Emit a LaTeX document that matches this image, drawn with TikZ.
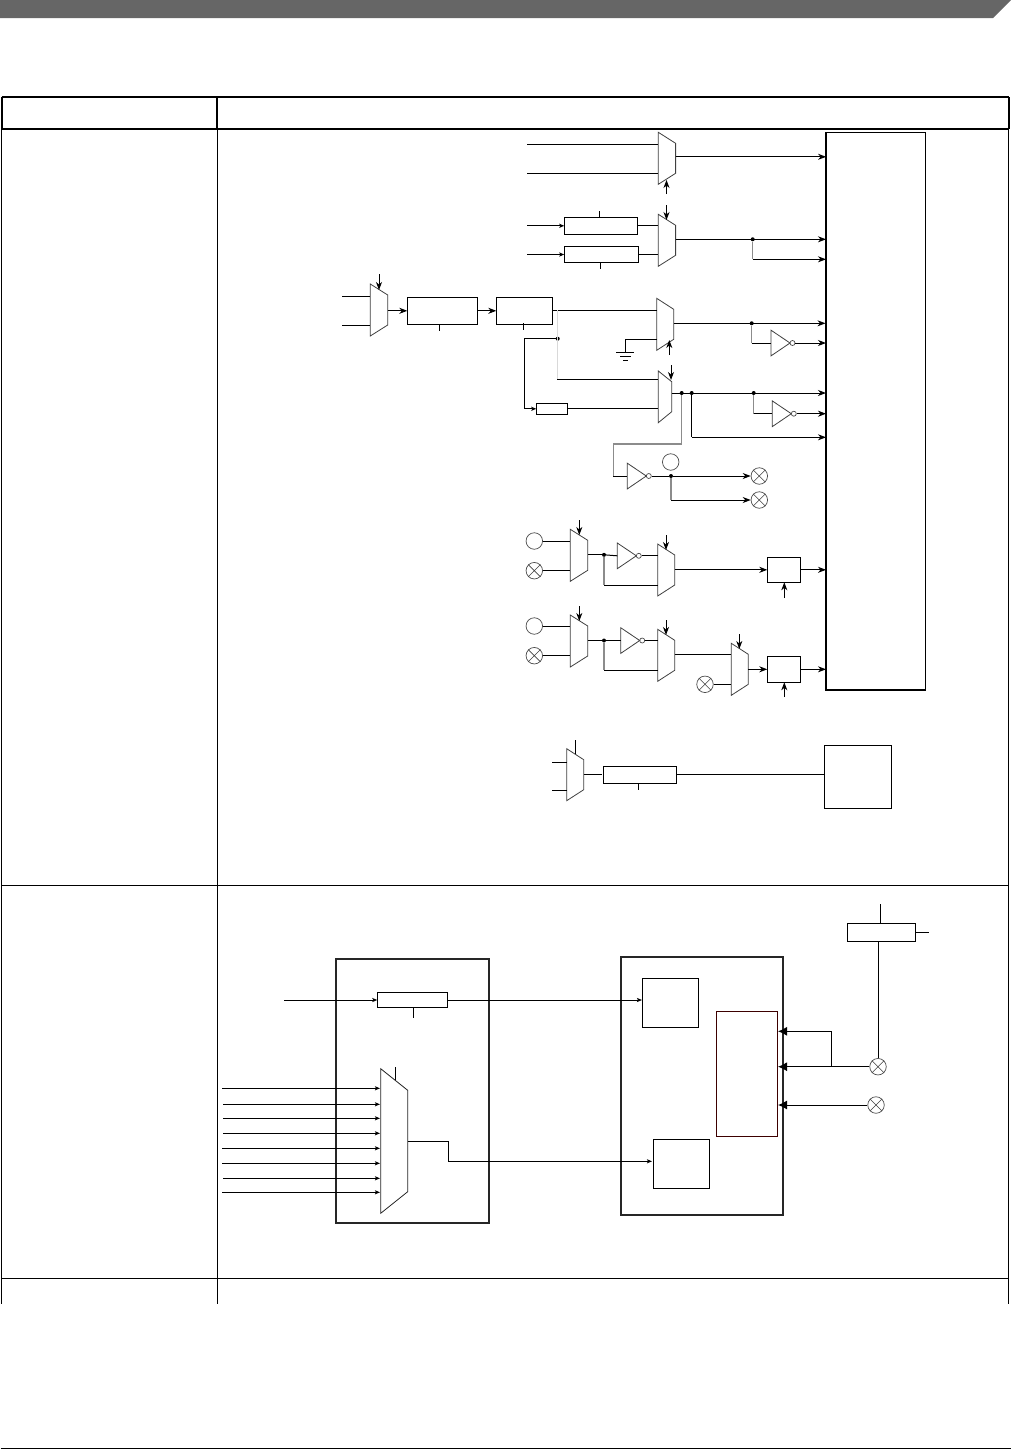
\documentclass[tikz,border=0pt]{standalone}
\usetikzlibrary{arrows.meta,fit}
\tikzset{
  wire/.style={line width=1pt,black},
  gwire/.style={line width=1.1pt,black!45},
  lgwire/.style={line width=1.4pt,black!15},
  arr/.style={wire,-{Stealth[length=8pt,width=6pt,inset=2.5pt]}},
  sarr/.style={wire,-{Stealth[length=5pt,width=4pt,inset=1pt]}},
  barr/.style={wire,-{Latex[length=9pt,width=9pt]}},
  box/.style={draw,rectangle,inner sep=0pt,outer sep=0pt,line width=1pt},
  outer/.style={box,line width=1.7pt,draw=black!85},
  muxline/.style={line width=0.8pt,draw=black!75},
  dot/.style={circle,fill=black,inner sep=0pt,minimum size=4pt},
  pad/.style={circle,draw=black!70,line width=0.7pt,inner sep=0pt,minimum size=16.5pt},
  tabthick/.style={line width=1.9pt,black},
  tabthin/.style={line width=1pt,black},
}
\newcommand\Mux[4]{% name x y width
  \draw[muxline] (#2,#3) -- ++(#4,11) -- ++(0,30) -- ++(-#4,11) -- cycle;
  \coordinate (#1-a) at (#2,#3+12);
  \coordinate (#1-b) at (#2,#3+41);
  \coordinate (#1-o) at (#2+#4,#3+25.5);
}
\newcommand\Inv[3]{% name x y
  \draw[muxline] (#2,#3) -- (#2+19,#3+12.8) -- (#2,#3+25.7) -- cycle;
  \node[circle,draw=black!70,line width=0.7pt,inner sep=0pt,minimum size=5pt] (#1-c) at (#2+21.5,#3+12.8) {};
  \coordinate (#1-i) at (#2,#3+12.8);
}
\newcommand\Xpad[3]{% name x y
  \node[pad] (#1) at (#2,#3) {};
  \draw[line width=0.6pt,black!75] (#1.45) -- (#1.225) (#1.135) -- (#1.-45);
}
\newcommand\Rbox[5]{\node[box,fit={(#2,#3) (#4,#5)}] (#1) {};}
\begin{document}
\begin{tikzpicture}[x=1pt,y=-1pt]
\useasboundingbox (0,0) rectangle (1011,1449);
\fill[white] (0,0) rectangle (1011,1449);
% banner
\fill[black!60] (0,0) -- (1011,0) -- (993,18) -- (0,18) -- cycle;
\draw[line width=1pt] (0.5,1448.3) -- (1011,1448.3);
% table
\draw[tabthick] (1.7,97) -- (1008.7,97);
\draw[tabthick] (1.7,129) -- (1008.7,129);
\draw[tabthick] (1.7,97) -- (1.7,129);
\draw[tabthick] (217.3,97) -- (217.3,129);
\draw[tabthick] (1008.7,97) -- (1008.7,129);
\draw[tabthin] (1.7,129) -- (1.7,1304);
\draw[tabthin] (217.3,129) -- (217.3,1304);
\draw[tabthin] (1008.7,129) -- (1008.7,1304);
\draw[tabthin] (1.7,885) -- (1008.7,885);
\draw[tabthin] (1.7,1278.3) -- (1008.7,1278.3);

% big target block
\Rbox{big}{826}{132.3}{925.7}{689.8}
\draw[line width=2.2pt] (big.north west) -- (big.south west) -- (big.south east);

% M1
\Mux{M1}{658.3}{132.3}{17.3}
\coordinate (a1) at (527,144.3); \coordinate (a2) at (527,173.3);
\draw[wire] (a1) -- (a1 -| M1-a);
\draw[wire] (a2) -- (a2 -| M1-a);
\draw[arr] (M1-o) ++(0,-1) -- ++(150.5,0);
\coordinate (s1) at (666.5,194); \coordinate (s1e) at (666.5,180);
\draw[arr] (s1) -- (s1e);

% M2
\Mux{M2}{658.3}{214.3}{17.3}
\Rbox{R1}{564.3}{217.3}{637.7}{234.3}
\Rbox{R2}{564.3}{246.3}{638.5}{262.7}
\coordinate (r1i) at (527,225.8); \coordinate (r2i) at (527,254.5);
\draw[sarr] (r1i) -- (R1.west);
\draw[sarr] (r2i) -- (R2.west);
\draw[wire] (R1.east) -- (R1.east -| M2-a);
\draw[wire] (R2.east) -- (R2.east -| M2-a);
\draw[wire] (599.5,211) -- (599.5,217.3);
\draw[wire] (600.5,262.7) -- (600.5,268.7);
\coordinate (s2) at (666.5,205); \coordinate (s2e) at (666.5,220);
\draw[arr] (s2) -- (s2e);
\node[dot] (j2) at (752.7,239.3) {};
\draw[arr] (M2-o) ++(0,-0.5) -- (826,239.3);
\coordinate (j2b) at (752.7,259.3);
\draw[gwire] (j2) -- (j2b);
\draw[arr] (j2b) -- (j2b -| big.west);

% M0 and chain
\Mux{M0}{370.3}{284}{17.4}
\coordinate (m0a) at (342,296.3); \coordinate (m0b) at (342,325.3);
\draw[wire] (m0a) -- (m0a -| M0-a);
\draw[wire] (m0b) -- (m0b -| M0-a);
\coordinate (s0) at (379,274); \coordinate (s0e) at (379,290);
\draw[arr] (s0) -- (s0e);
\Rbox{B1}{407.3}{297.3}{477.7}{324.3}
\Rbox{B2}{496.3}{297.3}{552.7}{324.3}
\draw[arr] (B1.west -| M0-o) -- (B1.west);
\draw[arr] (B1.east) -- (B2.west);
\draw[wire] (439.3,324.3) -- (439.3,330.7);
\draw[wire] (523.3,323.3) -- (523.3,330);

% M3
\Mux{M3}{656.7}{298.3}{17}
\coordinate (b2o) at (552.7,310.3);
\draw[wire] (b2o) -- (b2o -| M3-a);
\coordinate (gnd) at (625.3,352.3);
\draw[wire] (M3-b) -- (M3-b -| gnd) -- (gnd);
\draw[wire] (616,352.3) -- (634,352.3) (620,356.5) -- (631,356.5) (623,360) -- (628,360);
\coordinate (s3) at (669.3,355); \coordinate (s3e) at (669.3,340);
\draw[arr] (s3) -- (s3e);
\node[dot] (j3) at (751.7,323.3) {};
\draw[arr] (M3-o) ++(0,-0.5) -- (825.5,323.3);
\Inv{I1}{771}{330.2}
\coordinate (j3b) at (751.7,343);
\draw[gwire] (j3) -- (j3b);
\draw[wire] (j3b) -- (I1-i);
\draw[arr] (I1-c.east) -- (I1-c.east -| big.west);

% branch to M4
\coordinate (g0) at (557.2,310.3);
\node[dot] (j4) at (557.7,338.7) {};
\coordinate (g1) at (557.2,379.3);
\draw[lgwire] (g0) -- (g1);
\draw[wire] (j4) -- (524.3,338.7) -- (524.3,409.3);
\coordinate (sbi) at (524.3,408.8);
\Rbox{SB}{536.3}{403.3}{567.7}{414.3}
\draw[sarr] (sbi) -- (SB.west);

% M4
\draw[muxline] (658.3,371) -- (671.7,381.7) -- (671.7,411.7) -- (658.3,422.7) -- cycle;
\coordinate (M4a) at (658.3,379.3); \coordinate (M4b) at (658.3,408.8); \coordinate (M4o) at (671.7,393);
\draw[wire] (g1) -- (M4a);
\draw[wire] (SB.east) -- (M4b);
\coordinate (s4) at (671,365); \coordinate (s4e) at (671,380);
\draw[arr] (s4) -- (s4e);
\node[dot] (j5) at (681.7,393) {};
\node[dot] (j6) at (691.7,393) {};
\node[dot] (j7) at (753.7,393) {};
\draw[arr] (M4o) -- (826,393);
\Inv{I2}{772.3}{400.9}
\coordinate (j7b) at (753.7,413.7);
\draw[gwire] (j7) -- (j7b);
\draw[wire] (j7b) -- (I2-i);
\draw[arr] (I2-c.east) -- (I2-c.east -| big.west);
\coordinate (j6b) at (691.7,437.3);
\draw[wire] (j6) -- (j6b);
\draw[arr] (j6b) -- (j6b -| big.west);

% inverter to pads
\Inv{I3}{627.3}{463.2}
\draw[gwire] (j5) -- (681.7,444) -- (613.3,444) -- (613.3,476);
\coordinate (i3w) at (613.3,476);
\draw[wire] (i3w) -- (I3-i);
\node[pad] (openA) at (670.7,462) {};
\node[dot] (j8) at (671,476) {};
\Xpad{xA}{759.3}{476}
\Xpad{xB}{759.3}{500}
\draw[wire] (I3-c.east) -- (j8);
\draw[arr] (j8) -- (xA.west);
\coordinate (j8b) at (671,500);
\draw[gwire] (j8) -- (j8b);
\draw[arr] (j8b) -- (xB.west);

% Row A
\node[pad] (oC) at (534.3,541) {};
\Xpad{xC}{534.3}{570.7}
\Mux{M5}{570.3}{529.3}{17.4}
\draw[wire] (oC.east) -- (oC.east -| M5-a);
\draw[wire] (xC.east) -- (xC.east -| M5-a);
\coordinate (s5) at (579.3,520); \coordinate (s5e) at (579.3,535);
\draw[arr] (s5) -- (s5e);
\node[dot] (j9) at (604,554.8) {};
\draw[wire] (M5-o) -- (j9);
\Inv{I4}{617.3}{543}
\draw[wire] (j9) -- (I4-i);
\Mux{M6}{657.7}{544}{17}
\draw[wire] (I4-c.east) -- (I4-c.east -| M6-a);
\coordinate (j9b) at (604,585.3);
\draw[gwire] (j9) -- (j9b);
\draw[wire] (j9b) -- (j9b -| M6-a);
\coordinate (s6) at (666,535); \coordinate (s6e) at (666,550);
\draw[arr] (s6) -- (s6e);
\Rbox{C1}{767.3}{557.3}{800.7}{582.3}
\draw[arr] (C1.west -| M6-o) -- (C1.west);
\draw[arr] (C1.east) -- (C1.east -| big.west);
\coordinate (s7) at (784.3,598); 
\draw[arr] (s7) -- (C1.south -| s7);

% Row B
\node[pad] (oD) at (534.3,626) {};
\Xpad{xD}{534.3}{655.7}
\Mux{M7}{570.3}{615}{17.4}
\draw[wire] (oD.east) -- (oD.east -| M7-a);
\draw[wire] (xD.east) -- (xD.east -| M7-a);
\coordinate (s8) at (579.3,606); \coordinate (s8e) at (579.3,621);
\draw[arr] (s8) -- (s8e);
\node[dot] (j10) at (604,640.5) {};
\draw[wire] (M7-o) -- (j10);
\Inv{I5}{620.7}{627.7}
\draw[wire] (j10) -- (I5-i);
\Mux{M8}{657.7}{629.3}{17}
\draw[wire] (I5-c.east) -- (I5-c.east -| M8-a);
\coordinate (j10b) at (604,670.3);
\draw[gwire] (j10) -- (j10b);
\draw[wire] (j10b) -- (j10b -| M8-a);
\coordinate (s9) at (666,620); \coordinate (s9e) at (666,635);
\draw[arr] (s9) -- (s9e);
\Mux{M9}{731.3}{643.3}{17}
\draw[wire] (M8-o) -- (M8-o -| M9-a);
\Xpad{xE}{705}{684.3}
\draw[wire] (xE.east) -- (xE.east -| M9-a);
\coordinate (s10) at (739.3,634); \coordinate (s10e) at (739.3,649);
\draw[arr] (s10) -- (s10e);
\Rbox{C2}{767.3}{656.3}{800.7}{682.3}
\draw[arr] (C2.west -| M9-o) -- (C2.west);
\draw[arr] (C2.east) -- (C2.east -| big.west);
\coordinate (s11) at (784.3,697);
\draw[arr] (s11) -- (C2.south -| s11);

% lower chain in first row
\Mux{M10}{566.7}{748.7}{17}
\coordinate (t1) at (552,762.3); \coordinate (t2) at (552,790.3);
\draw[wire] (t1) -- (t1 -| M10-a);
\draw[wire] (t2) -- (t2 -| M10-a);
\draw[wire] (575.3,740) -- (575.3,754);
\Rbox{R3}{603.3}{766.3}{676.7}{783.3}
\Rbox{E1}{824.3}{745.3}{891.7}{808.3}
\draw[wire] (R3.west -| M10-o) -- (602,774.8);
\draw[wire] (R3.east) -- (R3.east -| E1.west);
\draw[wire] (638.3,783.3) -- (638.3,790);

% second row: left block
\node[outer,fit={(336,959.3) (489,1223.3)}] (L) {};
\Rbox{R4}{377.3}{992.3}{447.7}{1007.7}
\coordinate (r4i) at (284,1000);
\draw[sarr] (r4i) -- (R4.west);
\draw[wire] (413.3,1007.7) -- (413.3,1017.7);
% big mux
\draw[line width=0.8pt,black!85] (380.7,1068.7) -- (407.7,1090.3) -- (407.7,1191.7) -- (380.7,1213.3) -- cycle;
\draw[wire] (395.3,1067) -- (395.3,1080);
\foreach \yy/\xx in {1088.3/222,1104.3/223,1118.3/223,1133.3/223,1148.3/222,1163.3/222,1178.3/223,1192.3/222}{
  \draw[sarr] (\xx,\yy) -- (380,\yy);
}
\coordinate (mo) at (407.7,1141.3);
\coordinate (mo2) at (448.3,1161.3);

% second row: right block
\node[outer,fit={(621,956.7) (783.3,1215)}] (Rb) {};
\Rbox{A1}{642.3}{978.3}{698.7}{1027.3}
\Rbox{A2}{653.3}{1139.3}{709.7}{1188.3}
\node[box,draw=black!60!red!60!black,fit={(716.3,1011.3) (777.7,1136.7)}] (A3) {};
\coordinate (a1i) at (642,1000);
\draw[sarr] (R4.east) -- (a1i);
\draw[sarr] (mo) -- (448.3,1141.3) -- (mo2) -- (652,1161.3);
\Xpad{xF}{878}{1066.7}
\Xpad{xG}{876}{1105}
\Rbox{D1}{847.3}{923.3}{915.7}{941.3}
\coordinate (h1) at (778,1031.3);
\coordinate (h2) at (778,1066.7);
\coordinate (h3) at (778,1105);
\draw[barr] (xF.west) -- (h2);
\draw[barr] (xG.west) -- (h3);
\draw[barr] (831.3,1066.7) -- (831.3,1031.3) -- (h1);
\draw[wire] (xF.north) -- (xF.north |- D1.south);
\draw[wire] (880.3,904) -- (880.3,923.3);
\draw[wire] (D1.east) -- (929,932.3);
\end{tikzpicture}
\end{document}
